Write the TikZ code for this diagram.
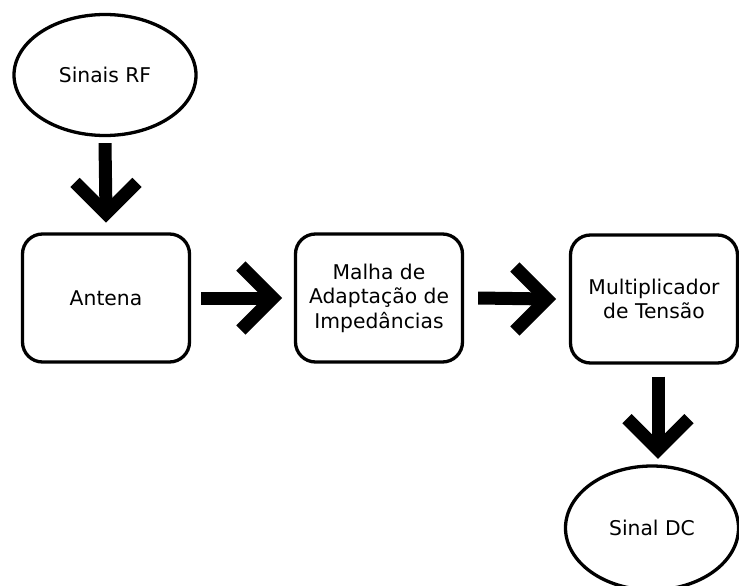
\documentclass[tikz,border=0pt]{standalone}
\usepackage{fontspec}
\setmainfont{DejaVu Sans}
\usetikzlibrary{shapes.geometric,calc}
\begin{document}
\begin{tikzpicture}[x=1pt,y=-1pt,
  every node/.style={font=\fontsize{20.3}{24.5}\selectfont, align=center, line width=3.3pt, draw, inner sep=0pt},
  oval/.style={ellipse, minimum width=182, minimum height=121},
  blockbox/.style={rectangle, rounded corners=20pt, minimum width=167, minimum height=128},
  shaft/.style={line width=13pt, line cap=butt},
  barb/.style={line width=13pt, line join=miter, line cap=butt}]
\useasboundingbox (0,0) rectangle (739,586);
\node[oval] (rf) at (105,75) {Sinais RF};
\node[blockbox] (ant) at (106,298) {Antena};
\node[blockbox] (mal) at (379,298) {Malha de\\Adaptação de\\Impedâncias};
\node[blockbox] (mul) at (654,299) {Multiplicador\\de Tensão};
\node[oval, minimum width=173, minimum height=124] (dc) at (652,528) {Sinal DC};
% arrow rf -> ant
\coordinate (v1) at ($(ant.north)+(0,-19)$);
\draw[shaft] ($(rf.south)+(0,6)$) -- (v1);
\draw[barb] ($(v1)+(-31,-31)$) -- (v1) -- ($(v1)+(31,-31)$);
% arrow ant -> mal
\coordinate (v2) at ($(mal.west)+(-21,0)$);
\draw[shaft] ($(ant.east)+(10,0)$) -- (v2);
\draw[barb] ($(v2)+(-32,-32)$) -- (v2) -- ($(v2)+(-32,32)$);
% arrow mal -> mul
\coordinate (v3) at ($(mul.west)+(-22,0)$);
\draw[shaft] ($(mal.east)+(14,0)$) -- (v3);
\draw[barb] ($(v3)+(-32,-32)$) -- (v3) -- ($(v3)+(-32,32)$);
% arrow mul -> dc
\coordinate (v4) at ($(mul.south)+(4,85)$);
\draw[shaft] ($(mul.south)+(4,12)$) -- (v4);
\draw[barb] ($(v4)+(-31,-31)$) -- (v4) -- ($(v4)+(31,-31)$);
\end{tikzpicture}
\end{document}
